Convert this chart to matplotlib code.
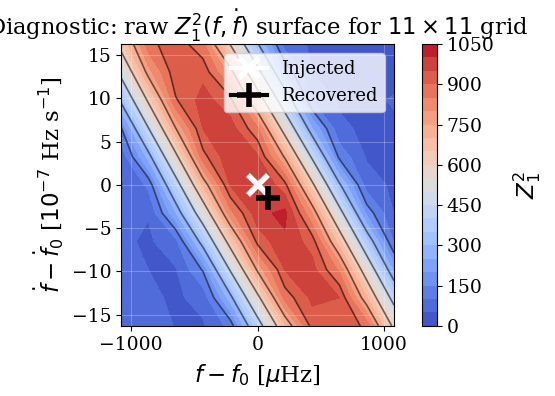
import numpy as np
import matplotlib
matplotlib.use("Agg")
import matplotlib.pyplot as plt

# grid offsets (f in muHz, fdot in 1e-7 Hz/s)
f_offsets = [-1080, -864, -648, -432, -216, 0, 216, 432, 648, 864, 1080]
fdot_offsets = [-16.3, -13.04, -9.78, -6.52, -3.26, 0.0, 3.26, 6.52, 9.78, 13.04, 16.3]

# raw Z1^2 values, one row per fdot offset (bottom to top)
z_rows = [
    [95, 70, 48, 44, 116, 394, 689, 922, 948, 885, 574],
    [85, 60, 42, 66, 276, 574, 870, 962, 950, 703, 405],
    [70, 50, 46, 156, 459, 763, 952, 969, 839, 537, 231],
    [60, 42, 83, 337, 643, 918, 989, 928, 667, 361, 92],
    [55, 53, 243, 523, 831, 983, 1015, 800, 490, 184, 48],
    [43, 110, 398, 707, 953, 1006, 919, 622, 311, 74, 40],
    [63, 268, 574, 882, 988, 957, 742, 435, 135, 45, 42],
    [142, 444, 747, 951, 975, 860, 555, 252, 60, 40, 46],
    [315, 615, 894, 970, 918, 672, 372, 99, 43, 45, 52],
    [482, 777, 934, 935, 781, 486, 192, 50, 40, 48, 42],
    [642, 882, 933, 862, 595, 306, 76, 43, 45, 50, 45],
]

injected = (0.0, 0.0)
recovered = (80.0, -1.5)

fill_levels = list(range(0, 1100, 50))
line_levels = [150, 300, 450, 600, 750, 900]
cbar_ticks = [0, 150, 300, 450, 600, 750, 900, 1050]

plt.rcParams["font.family"] = "serif"
plt.rcParams["font.size"] = 13.5

fig = plt.figure(figsize=(5.55, 3.96), dpi=100)
ax = fig.add_axes([0.218, 0.177, 0.492, 0.712])
cax = fig.add_axes([0.760, 0.177, 0.027, 0.712])

F, FD = np.meshgrid(f_offsets, fdot_offsets)
Z = np.array(z_rows)

cf = ax.contourf(F, FD, Z, levels=fill_levels, cmap="coolwarm")
ax.contour(F, FD, Z, levels=line_levels, colors="k", alpha=0.55, linewidths=1.2)

# single-point lines, so the legend shows a bar through the marker
ax.plot(*injected, color="white", marker="x", markersize=14, markeredgewidth=4,
        linewidth=3, label="Injected")
ax.plot(*recovered, color="black", marker="+", markersize=17, markeredgewidth=4,
        linewidth=3, label="Recovered")

ax.grid(True, color="white", alpha=0.25)
ax.set_xticks([-1000, 0, 1000])
ax.set_yticks([-15, -10, -5, 0, 5, 10, 15])
ax.set_xlabel(r"$f - f_0$ [$\mu$Hz]", fontsize=16.5, labelpad=6)
ax.set_ylabel(r"$\dot{f} - \dot{f}_0$ [$10^{-7}$ Hz s$^{-1}$]", fontsize=16.5)
ax.set_title(r"Diagnostic: raw $Z_1^2(f, \dot{f})$ surface for $11 \times 11$ grid",
             fontsize=16.3)
ax.legend(loc="upper right", fontsize=13)

cb = fig.colorbar(cf, cax=cax, ticks=cbar_ticks)
cb.set_label(r"$Z_1^2$", fontsize=16.5, labelpad=12)

fig.savefig("out.png", dpi=100)
